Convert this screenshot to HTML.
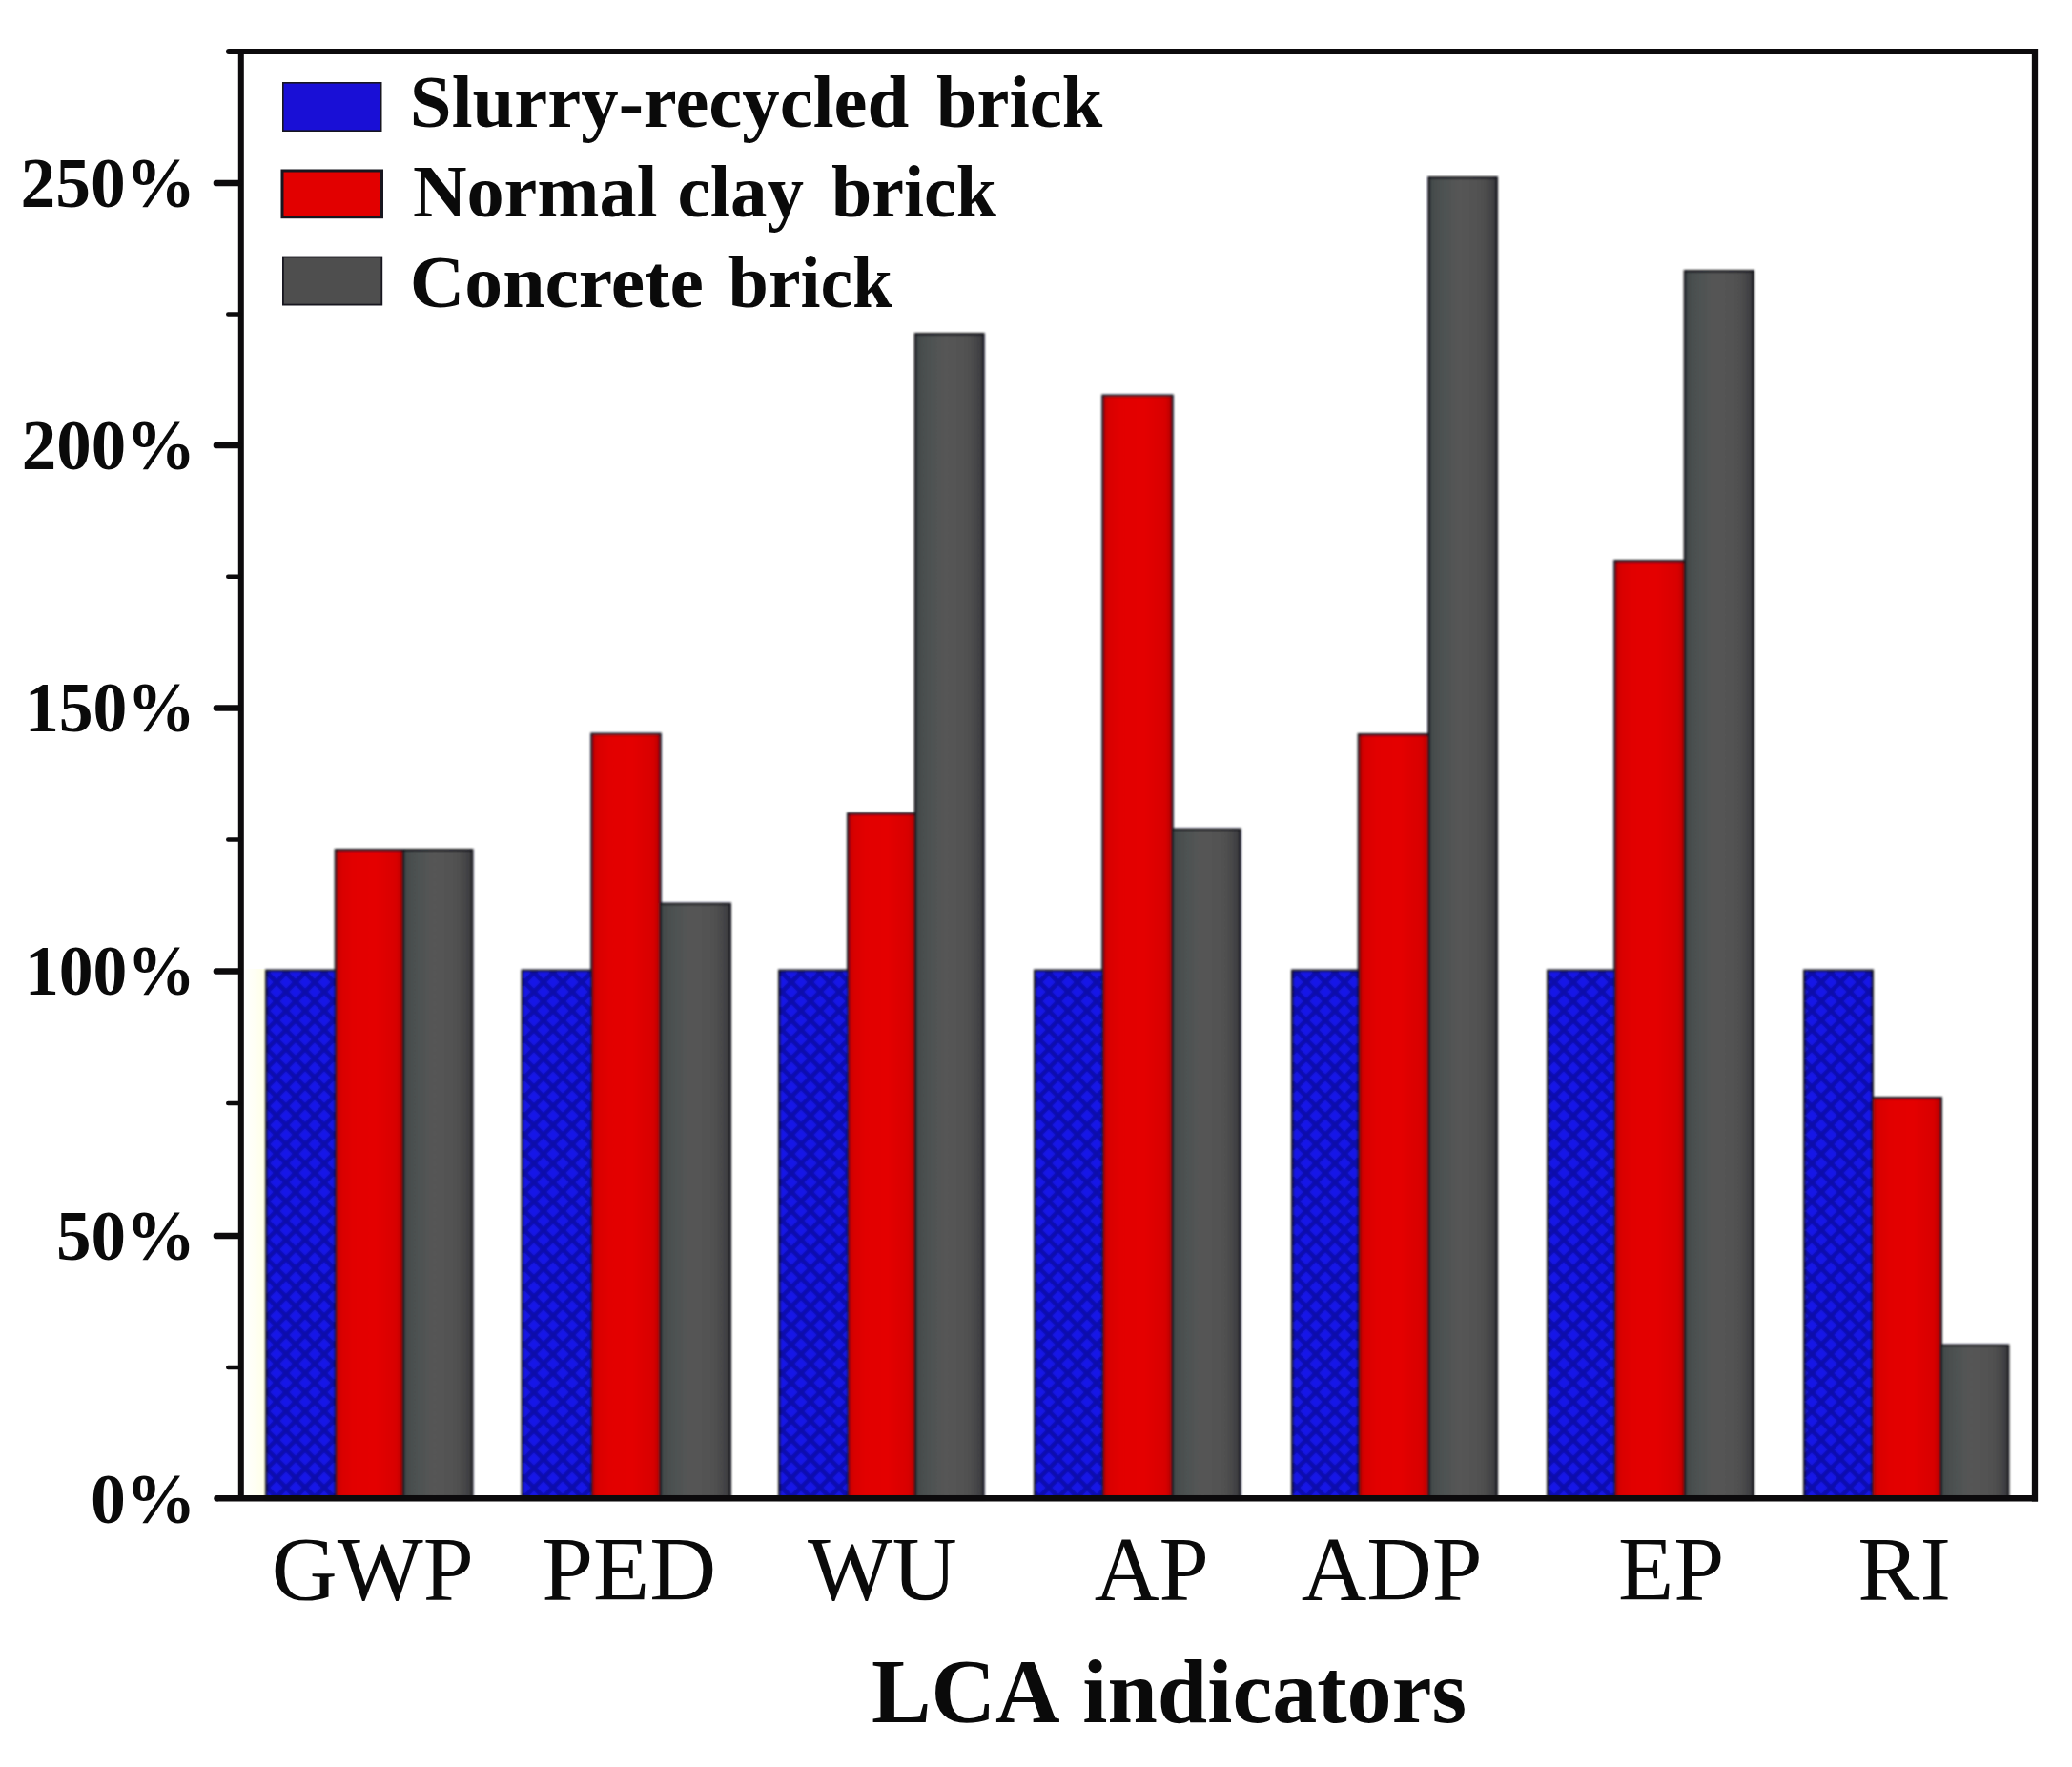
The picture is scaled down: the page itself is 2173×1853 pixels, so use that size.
<!DOCTYPE html>
<html lang="en"><head><meta charset="utf-8"><title>LCA indicators</title>
<style>html,body{margin:0;padding:0;background:#fff}body{width:2173px;height:1853px;overflow:hidden}svg{display:block}text{font-family:"Liberation Serif","Times New Roman",serif;fill:#0a0a0a}.b{font-weight:700}</style></head><body>
<svg width="2173" height="1853" viewBox="0 0 2173 1853">
<defs>
<pattern id="hatch" width="20" height="20" patternUnits="userSpaceOnUse"><rect width="20" height="20" fill="#1718e8"/><path d="M-3,-3 L23,23 M-3,17 L3,23 M17,-3 L23,3 M23,-3 L-3,23 M-3,3 L3,-3 M17,23 L23,17" stroke="#0b08aa" stroke-width="4.6" fill="none"/></pattern>
<linearGradient id="gg" x1="0" x2="1" y1="0" y2="0"><stop offset="0" stop-color="#404848"/><stop offset="0.14" stop-color="#4b5050"/><stop offset="0.45" stop-color="#565656"/><stop offset="0.8" stop-color="#505050"/><stop offset="1" stop-color="#3a3a3e"/></linearGradient>
<linearGradient id="rg" x1="0" x2="1" y1="0" y2="0"><stop offset="0" stop-color="#b40000"/><stop offset="0.08" stop-color="#d80000"/><stop offset="0.25" stop-color="#e20000"/><stop offset="0.6" stop-color="#e40000"/><stop offset="0.9" stop-color="#d80000"/><stop offset="1" stop-color="#b00000"/></linearGradient>
<linearGradient id="cr" x1="0" x2="1" y1="0" y2="0"><stop offset="0" stop-color="#ffffff"/><stop offset="0.5" stop-color="#fffff4"/><stop offset="1" stop-color="#ffffe6"/></linearGradient>
<filter id="soft" x="-2%" y="-2%" width="104%" height="104%"><feGaussianBlur stdDeviation="0.9"/></filter>
</defs>
<rect width="2173" height="1853" fill="#ffffff"/>
<rect x="255.5" y="1016" width="23" height="554" fill="url(#cr)"/>
<g filter="url(#soft)">
<rect x="279.3" y="1017.8" width="72.7" height="553.2" fill="url(#hatch)" stroke="#15141f" stroke-width="2.6"/>
<rect x="352.0" y="891.3" width="71.0" height="679.7" fill="url(#rg)" stroke="#15141f" stroke-width="2.6"/>
<rect x="423.0" y="891.3" width="72.2" height="679.7" fill="url(#gg)" stroke="#15141f" stroke-width="2.6"/>
<rect x="547.8" y="1017.8" width="72.7" height="553.2" fill="url(#hatch)" stroke="#15141f" stroke-width="2.6"/>
<rect x="620.5" y="769.8" width="72.0" height="801.2" fill="url(#rg)" stroke="#15141f" stroke-width="2.6"/>
<rect x="692.5" y="947.8" width="73.2" height="623.2" fill="url(#gg)" stroke="#15141f" stroke-width="2.6"/>
<rect x="817.3" y="1017.8" width="72.0" height="553.2" fill="url(#hatch)" stroke="#15141f" stroke-width="2.6"/>
<rect x="889.3" y="853.3" width="70.7" height="717.7" fill="url(#rg)" stroke="#15141f" stroke-width="2.6"/>
<rect x="960.0" y="350.3" width="71.4" height="1220.7" fill="url(#gg)" stroke="#15141f" stroke-width="2.6"/>
<rect x="1085.3" y="1017.8" width="71.2" height="553.2" fill="url(#hatch)" stroke="#15141f" stroke-width="2.6"/>
<rect x="1156.5" y="414.8" width="73.0" height="1156.2" fill="url(#rg)" stroke="#15141f" stroke-width="2.6"/>
<rect x="1229.5" y="869.8" width="70.9" height="701.2" fill="url(#gg)" stroke="#15141f" stroke-width="2.6"/>
<rect x="1355.3" y="1017.8" width="69.7" height="553.2" fill="url(#hatch)" stroke="#15141f" stroke-width="2.6"/>
<rect x="1425.0" y="770.3" width="73.5" height="800.7" fill="url(#rg)" stroke="#15141f" stroke-width="2.6"/>
<rect x="1498.5" y="186.3" width="71.2" height="1384.7" fill="url(#gg)" stroke="#15141f" stroke-width="2.6"/>
<rect x="1623.3" y="1017.8" width="70.2" height="553.2" fill="url(#hatch)" stroke="#15141f" stroke-width="2.6"/>
<rect x="1693.5" y="588.3" width="73.5" height="982.7" fill="url(#rg)" stroke="#15141f" stroke-width="2.6"/>
<rect x="1767.0" y="284.3" width="71.7" height="1286.7" fill="url(#gg)" stroke="#15141f" stroke-width="2.6"/>
<rect x="1892.3" y="1017.8" width="71.4" height="553.2" fill="url(#hatch)" stroke="#15141f" stroke-width="2.6"/>
<rect x="1963.7" y="1151.3" width="72.0" height="419.7" fill="url(#rg)" stroke="#15141f" stroke-width="2.6"/>
<rect x="2035.7" y="1410.8" width="70.4" height="160.2" fill="url(#gg)" stroke="#15141f" stroke-width="2.6"/>
</g>
<g stroke="#0c0a0c" fill="none">
<line x1="240" y1="54" x2="2137" y2="54" stroke-width="6"/><circle cx="240" cy="54" r="3" fill="#0c0a0c" stroke="none"/>
<line x1="252.8" y1="54" x2="252.8" y2="1572" stroke-width="6"/>
<line x1="2134" y1="51" x2="2134" y2="1574.4" stroke-width="6.3"/>
<path d="M227.5,1571.2 H2137" stroke-width="6.4"/><circle cx="227.5" cy="1571.2" r="3.2" fill="#0c0a0c" stroke="none"/>
<line x1="227" y1="192.0" x2="251" y2="192.0" stroke-width="6.6" stroke-linecap="round"/>
<line x1="227" y1="467.0" x2="251" y2="467.0" stroke-width="6.6" stroke-linecap="round"/>
<line x1="227" y1="742.5" x2="251" y2="742.5" stroke-width="6.6" stroke-linecap="round"/>
<line x1="227" y1="1018.5" x2="251" y2="1018.5" stroke-width="6.6" stroke-linecap="round"/>
<line x1="227" y1="1296.0" x2="251" y2="1296.0" stroke-width="6.6" stroke-linecap="round"/>
<line x1="239.3" y1="329.5" x2="251" y2="329.5" stroke-width="4.6" stroke-linecap="round"/>
<line x1="239.3" y1="604.7" x2="251" y2="604.7" stroke-width="4.6" stroke-linecap="round"/>
<line x1="239.3" y1="880.5" x2="251" y2="880.5" stroke-width="4.6" stroke-linecap="round"/>
<line x1="239.3" y1="1157.0" x2="251" y2="1157.0" stroke-width="4.6" stroke-linecap="round"/>
<line x1="239.3" y1="1434.0" x2="251" y2="1434.0" stroke-width="4.6" stroke-linecap="round"/>
</g>
<text class="b" y="216.6" font-size="74"><tspan x="21.52" textLength="183.63" lengthAdjust="spacingAndGlyphs">250%</tspan></text>
<text class="b" y="491.6" font-size="74"><tspan x="22.74" textLength="182.36" lengthAdjust="spacingAndGlyphs">200%</tspan></text>
<text class="b" y="767.1" font-size="74"><tspan x="25.89" textLength="179.08" lengthAdjust="spacingAndGlyphs">150%</tspan></text>
<text class="b" y="1043.1" font-size="74"><tspan x="25.89" textLength="179.08" lengthAdjust="spacingAndGlyphs">100%</tspan></text>
<text class="b" y="1320.6" font-size="74"><tspan x="58.94" textLength="146.18" lengthAdjust="spacingAndGlyphs">50%</tspan></text>
<text class="b" y="1596.6" font-size="74"><tspan x="95.01" textLength="110.56" lengthAdjust="spacingAndGlyphs">0%</tspan></text>
<text x="284.83" y="1678.3" font-size="96" textLength="211.88" lengthAdjust="spacingAndGlyphs">GWP</text>
<text x="568.17" y="1678.3" font-size="96" textLength="183.03" lengthAdjust="spacingAndGlyphs">PED</text>
<text x="847.10" y="1678.3" font-size="96" textLength="156.70" lengthAdjust="spacingAndGlyphs">WU</text>
<text x="1147.72" y="1678.3" font-size="96" textLength="120.12" lengthAdjust="spacingAndGlyphs">AP</text>
<text x="1364.71" y="1678.3" font-size="96" textLength="189.99" lengthAdjust="spacingAndGlyphs">ADP</text>
<text x="1697.02" y="1678.3" font-size="96" textLength="111.28" lengthAdjust="spacingAndGlyphs">EP</text>
<text x="1948.35" y="1678.3" font-size="96" textLength="97.60" lengthAdjust="spacingAndGlyphs">RI</text>
<text class="b" y="1806.0" font-size="96"><tspan x="913.95" textLength="192.49" lengthAdjust="spacingAndGlyphs">LCA</tspan> <tspan x="1135.34" textLength="402.78" lengthAdjust="spacingAndGlyphs">indicators</tspan></text>
<text class="b" y="132.7" font-size="78"><tspan x="429.86" textLength="523.44" lengthAdjust="spacingAndGlyphs">Slurry-recycled</tspan> <tspan x="982.02" textLength="174.16" lengthAdjust="spacingAndGlyphs">brick</tspan></text>
<text class="b" y="227.3" font-size="78"><tspan x="432.90" textLength="256.52" lengthAdjust="spacingAndGlyphs">Normal</tspan> <tspan x="710.44" textLength="132.64" lengthAdjust="spacingAndGlyphs">clay</tspan> <tspan x="872.03" textLength="173.05" lengthAdjust="spacingAndGlyphs">brick</tspan></text>
<text class="b" y="322.3" font-size="78"><tspan x="429.81" textLength="308.19" lengthAdjust="spacingAndGlyphs">Concrete</tspan> <tspan x="763.83" textLength="172.25" lengthAdjust="spacingAndGlyphs">brick</tspan></text>
<rect x="296.8" y="86.8" width="102.9" height="50.4" fill="#190fd6" stroke="#17161f" stroke-width="1.6"/>
<rect x="296.0" y="179.0" width="104.5" height="48.7" fill="#e20000" stroke="#17161f" stroke-width="3.0"/>
<rect x="296.9" y="269.5" width="103.4" height="50.1" fill="#4e4e4e" stroke="#17161f" stroke-width="1.8"/>
</svg></body></html>
